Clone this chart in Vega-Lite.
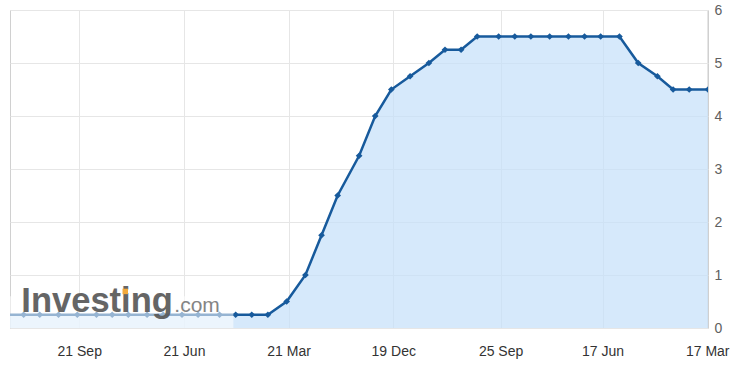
{
  "$schema": "https://vega.github.io/schema/vega-lite/v6.json",
  "width": 698,
  "height": 318,
  "autosize": "none",
  "padding": {"left": 10, "top": 10, "right": 25, "bottom": 39},
  "background": "white",
  "config": {
    "font": "Liberation Sans",
    "view": {"stroke": "#d0d0d0", "strokeWidth": 1}
  },
  "datasets": {
    "rates": [
      {"date": "2020-03-15", "rate": 0.25},
      {"date": "2020-04-29", "rate": 0.25},
      {"date": "2020-06-10", "rate": 0.25},
      {"date": "2020-07-29", "rate": 0.25},
      {"date": "2020-09-16", "rate": 0.25},
      {"date": "2020-11-05", "rate": 0.25},
      {"date": "2020-12-16", "rate": 0.25},
      {"date": "2021-01-27", "rate": 0.25},
      {"date": "2021-03-17", "rate": 0.25},
      {"date": "2021-04-28", "rate": 0.25},
      {"date": "2021-06-16", "rate": 0.25},
      {"date": "2021-07-28", "rate": 0.25},
      {"date": "2021-09-22", "rate": 0.25},
      {"date": "2021-11-03", "rate": 0.25},
      {"date": "2021-12-15", "rate": 0.25},
      {"date": "2022-01-26", "rate": 0.25},
      {"date": "2022-03-16", "rate": 0.5},
      {"date": "2022-05-04", "rate": 1.0},
      {"date": "2022-06-15", "rate": 1.75},
      {"date": "2022-07-27", "rate": 2.5},
      {"date": "2022-09-21", "rate": 3.25},
      {"date": "2022-11-02", "rate": 4.0},
      {"date": "2022-12-14", "rate": 4.5},
      {"date": "2023-02-01", "rate": 4.75},
      {"date": "2023-03-22", "rate": 5.0},
      {"date": "2023-05-03", "rate": 5.25},
      {"date": "2023-06-14", "rate": 5.25},
      {"date": "2023-07-26", "rate": 5.5},
      {"date": "2023-09-20", "rate": 5.5},
      {"date": "2023-11-01", "rate": 5.5},
      {"date": "2023-12-13", "rate": 5.5},
      {"date": "2024-01-31", "rate": 5.5},
      {"date": "2024-03-20", "rate": 5.5},
      {"date": "2024-05-01", "rate": 5.5},
      {"date": "2024-06-12", "rate": 5.5},
      {"date": "2024-07-31", "rate": 5.5},
      {"date": "2024-09-18", "rate": 5.0},
      {"date": "2024-11-07", "rate": 4.75},
      {"date": "2024-12-18", "rate": 4.5},
      {"date": "2025-01-29", "rate": 4.5},
      {"date": "2025-03-19", "rate": 4.5}
    ]
  },
  "layer": [
    {
      "data": {"name": "rates"},
      "mark": {"type": "area", "color": "#c5e0fa", "opacity": 0.7, "clip": true},
      "encoding": {
        "x": {
          "field": "date",
          "type": "temporal",
          "title": null,
          "scale": {
            "type": "utc",
            "domain": [
              {"year": 2020, "month": 3, "date": 24, "hours": 10, "utc": true},
              {"year": 2025, "month": 3, "date": 19, "utc": true}
            ]
          },
          "axis": {
            "values": [
              {"year": 2020, "month": 9, "date": 21, "utc": true},
              {"year": 2021, "month": 6, "date": 21, "utc": true},
              {"year": 2022, "month": 3, "date": 21, "utc": true},
              {"year": 2022, "month": 12, "date": 19, "utc": true},
              {"year": 2023, "month": 9, "date": 25, "utc": true},
              {"year": 2024, "month": 6, "date": 17, "utc": true},
              {"year": 2025, "month": 3, "date": 17, "utc": true}
            ],
            "format": "%d %b",
            "grid": true,
            "gridColor": "#e6e6e6",
            "ticks": false,
            "domain": false,
            "labelFlush": false,
            "labelOverlap": false,
            "labelPadding": 16,
            "labelFontSize": 14,
            "labelColor": "#333333"
          }
        },
        "y": {
          "field": "rate",
          "type": "quantitative",
          "title": null,
          "scale": {"domain": [0, 6], "nice": false},
          "axis": {
            "orient": "right",
            "values": [0, 1, 2, 3, 4, 5, 6],
            "grid": true,
            "gridColor": "#e6e6e6",
            "ticks": false,
            "domain": false,
            "labelPadding": 6,
            "labelFontSize": 14,
            "labelColor": "#606060"
          }
        }
      }
    },
    {
      "data": {"name": "rates"},
      "mark": {"type": "line", "color": "#175a9c", "strokeWidth": 2.5, "clip": true},
      "encoding": {
        "x": {"field": "date", "type": "temporal"},
        "y": {"field": "rate", "type": "quantitative"}
      }
    },
    {
      "data": {"name": "rates"},
      "mark": {"type": "point", "shape": "diamond", "filled": true, "color": "#175a9c", "opacity": 1, "size": 45, "clip": true},
      "encoding": {
        "x": {"field": "date", "type": "temporal"},
        "y": {"field": "rate", "type": "quantitative"}
      }
    },
    {
      "data": {"values": [{"start": "2020-03-01", "end": "2021-10-28", "lo": 0, "hi": 0.6}]},
      "mark": {"type": "rect", "color": "white", "opacity": 0.55, "clip": true},
      "encoding": {
        "x": {"field": "start", "type": "temporal"},
        "x2": {"field": "end"},
        "y": {"field": "lo", "type": "quantitative"},
        "y2": {"field": "hi"}
      }
    },
    {
      "data": {"values": [{"d": "2020-04-23", "v": 0.3, "t": "Investing"}]},
      "mark": {"type": "text", "align": "left", "baseline": "alphabetic", "fontSize": 34.5, "fontWeight": "bold", "color": "#585858", "opacity": 0.92},
      "encoding": {
        "x": {"field": "d", "type": "temporal"},
        "y": {"field": "v", "type": "quantitative"},
        "text": {"field": "t"}
      }
    },
    {
      "data": {"values": [{"d": "2021-01-19", "v": 0.69}]},
      "mark": {"type": "square", "size": 30, "color": "#f3aa3c", "opacity": 1},
      "encoding": {
        "x": {"field": "d", "type": "temporal"},
        "y": {"field": "v", "type": "quantitative"}
      }
    },
    {
      "data": {"values": [{"d": "2021-05-27", "v": 0.3, "t": ".com"}]},
      "mark": {"type": "text", "align": "left", "baseline": "alphabetic", "fontSize": 21, "color": "#7a7a7a", "opacity": 0.92},
      "encoding": {
        "x": {"field": "d", "type": "temporal"},
        "y": {"field": "v", "type": "quantitative"},
        "text": {"field": "t"}
      }
    }
  ]
}
